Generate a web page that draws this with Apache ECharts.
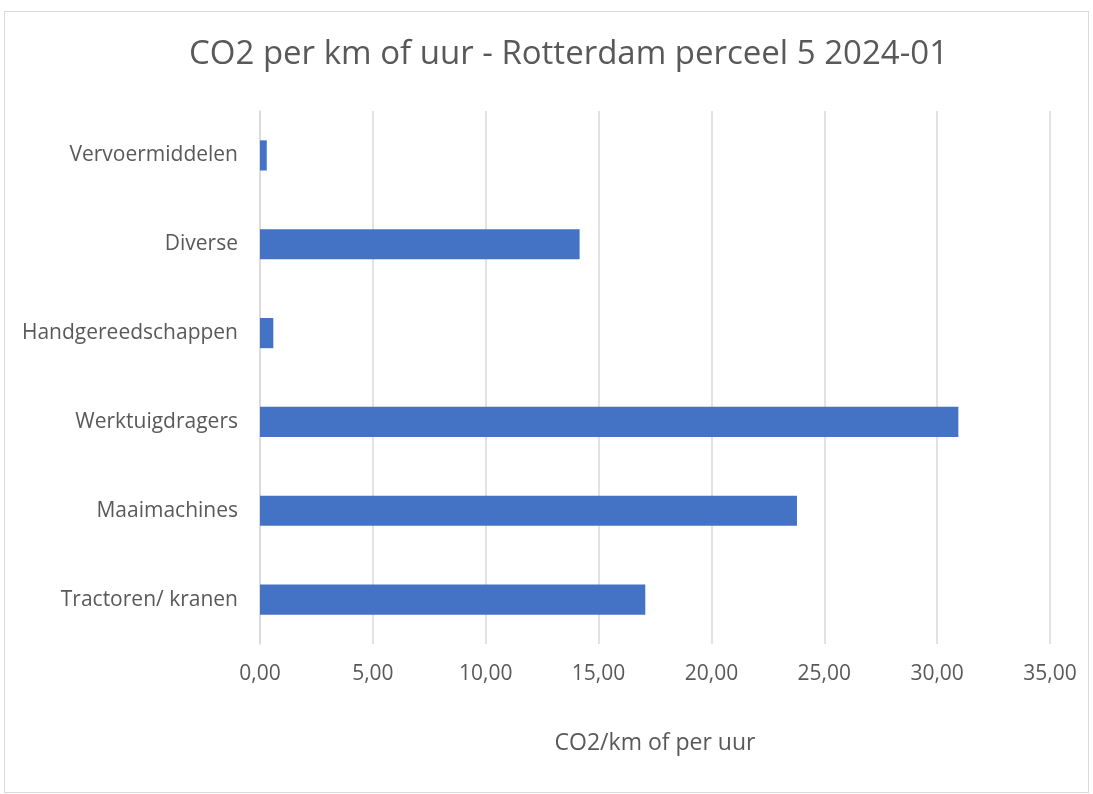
<!DOCTYPE html>
<html>
<head>
<meta charset="utf-8">
<script src="https://cdn.jsdelivr.net/npm/echarts@6/dist/echarts.min.js"></script>
<style>
html,body{margin:0;padding:0;background:#fff;}
#frame{position:absolute;left:4px;top:11px;width:1085px;height:782px;border:1px solid #d9d9d9;box-sizing:border-box;}
#chart{position:absolute;left:0;top:0;width:1093px;height:794px;}
</style>
</head>
<body>
<div id="frame"></div>
<div id="chart"></div>
<script>
const title = 'CO2 per km of uur - Rotterdam perceel 5 2024-01';
const axisTitle = 'CO2/km of per uur';
const categories = ['Tractoren/ kranen', 'Maaimachines', 'Werktuigdragers', 'Handgereedschappen', 'Diverse', 'Vervoermiddelen'];
const values = [17.07, 23.79, 30.94, 0.59, 14.16, 0.30];

const chart = echarts.init(document.getElementById('chart'), null, {renderer:'canvas'});
const font = '"Open Sans", sans-serif';
chart.setOption({
  animation:false,
  title:{text:title,left:184,top:33,textStyle:{fontFamily:font,fontSize:33,fontWeight:'normal',color:'#595959'}},
  grid:{left:260,right:43,top:111,bottom:150,containLabel:false},
  xAxis:{type:'value',min:0,max:35,interval:5,
    name:axisTitle,nameLocation:'middle',nameGap:88,
    nameTextStyle:{fontFamily:font,fontSize:23,color:'#595959'},
    axisLine:{show:false},axisTick:{show:false},
    axisLabel:{fontFamily:font,fontSize:21,color:'#595959',margin:20,formatter:v=>v.toFixed(2).replace('.',',')},
    splitLine:{show:true,lineStyle:{color:'#d9d9d9',width:1.5}}},
  yAxis:{type:'category',data:categories,
    axisLine:{show:true,lineStyle:{color:'#d9d9d9',width:1.5}},axisTick:{show:false},
    axisLabel:{fontFamily:font,fontSize:21,color:'#595959',margin:22}},
  series:[{type:'bar',data:values,barWidth:'34%',itemStyle:{color:'#4472c4'}}]
});
</script>
</body>
</html>
